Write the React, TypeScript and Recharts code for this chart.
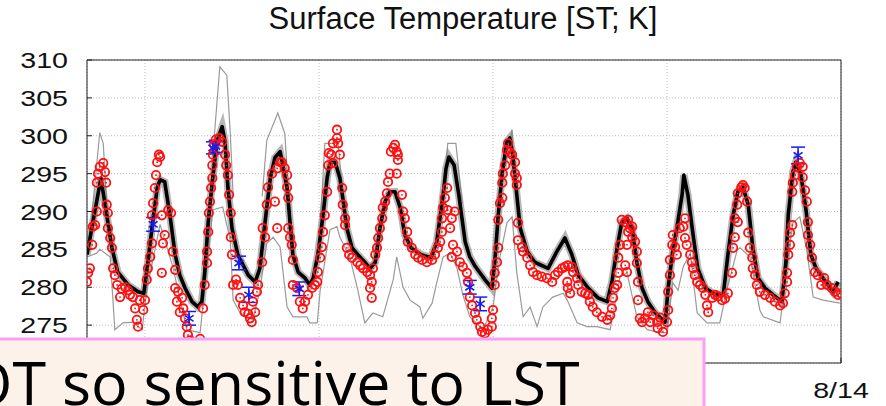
import {
  ComposedChart, Line, Scatter, ErrorBar, XAxis, YAxis, CartesianGrid,
} from 'recharts';

// time axis is days since 8/1 00:00, temperatures in K

// ensemble mean (thick black)
const ensembleMean: [number, number][] = [
  [0.00, 284.3], [0.24, 294.4], [0.43, 285.2], [0.53, 282.0], [0.71, 280.3], [0.88, 279.4], [0.98, 279.2],
  [1.05, 283.3], [1.12, 287.8], [1.21, 293.1], [1.26, 294.2], [1.34, 293.9], [1.43, 289.5], [1.52, 284.3],
  [1.60, 281.6], [1.69, 279.9], [1.81, 278.1], [1.91, 277.4], [1.98, 278.1], [2.03, 282.0], [2.09, 288.6],
  [2.16, 293.9], [2.24, 299.2], [2.33, 301.2], [2.38, 299.2], [2.43, 293.1], [2.50, 287.8], [2.60, 284.3],
  [2.78, 281.6], [2.90, 280.7], [2.98, 282.5], [3.07, 288.6], [3.16, 294.4], [3.24, 297.1], [3.33, 297.9],
  [3.45, 293.1], [3.50, 288.6], [3.55, 284.3], [3.64, 282.0], [3.76, 281.2], [3.84, 280.3], [3.90, 281.2],
  [3.98, 284.3], [4.07, 289.5], [4.14, 294.4], [4.19, 296.5], [4.28, 296.5], [4.36, 294.4], [4.41, 291.8],
  [4.48, 287.8], [4.57, 285.2], [4.67, 284.3], [4.79, 283.3], [4.88, 282.5], [4.97, 283.3], [5.05, 287.8],
  [5.14, 291.3], [5.22, 292.6], [5.31, 292.6], [5.40, 290.5], [5.48, 286.9], [5.59, 285.2], [5.76, 284.3],
  [5.93, 283.9], [6.03, 286.0], [6.14, 292.2], [6.19, 295.7], [6.24, 297.2], [6.33, 296.1], [6.41, 292.2],
  [6.52, 286.0], [6.60, 284.0], [6.69, 282.8], [6.86, 281.0], [6.98, 279.9], [7.03, 283.3], [7.09, 289.5],
  [7.16, 295.2], [7.24, 299.2], [7.29, 299.7], [7.34, 297.5], [7.41, 292.2], [7.47, 287.8], [7.59, 284.7],
  [7.72, 283.3], [7.95, 282.5], [8.10, 284.7], [8.24, 286.5], [8.36, 284.3], [8.47, 281.6], [8.64, 279.9],
  [8.81, 278.6], [8.97, 278.1], [9.05, 280.7], [9.14, 285.2], [9.22, 288.6], [9.31, 289.1], [9.40, 287.8],
  [9.48, 283.3], [9.57, 279.9], [9.67, 278.1], [9.79, 276.7], [9.84, 276.3], [9.97, 275.4], [10.02, 279.9],
  [10.09, 284.3], [10.17, 287.8], [10.26, 292.2], [10.29, 294.8], [10.36, 292.2], [10.45, 286.9], [10.53, 282.5],
  [10.66, 279.9], [10.83, 279.0], [10.97, 279.0], [11.05, 284.3], [11.14, 289.5], [11.22, 292.6], [11.31, 293.2],
  [11.40, 290.9], [11.48, 285.2], [11.57, 281.2], [11.69, 279.9], [11.83, 279.0], [11.98, 278.1], [12.05, 283.3],
  [12.09, 289.5], [12.17, 295.2], [12.22, 296.5], [12.31, 294.8], [12.40, 290.0], [12.48, 284.3], [12.57, 282.5],
  [12.74, 280.7], [12.86, 279.4], [12.95, 280.7],
];

// member with strong daytime peaks (only where it leaves the ensemble)
const peakMember: [number, number | null][] = [
  [0.05, 287], [0.14, 294], [0.22, 300.4], [0.28, 299.0], [0.34, 291], [0.41, 286], [0.7, null],
  [2.14, 293], [2.19, 299.5], [2.29, 309.1], [2.41, 308.0], [2.47, 300.4], [2.52, 292], [2.8, null],
  [3.02, 292], [3.10, 299.4], [3.29, 303.0], [3.41, 300.3], [3.48, 292], [3.55, 285], [3.8, null],
  [4.02, 288], [4.10, 299.0], [4.33, 299.0], [4.40, 293], [4.6, null],
  [6.14, 292], [6.22, 299.0], [6.36, 299.0], [6.47, 291], [6.8, null],
  [7.21, 296], [7.33, 300.8], [7.36, 295],
];

// cold-biased run (thin gray, lower)
const coldRun: [number, number][] = [
  [0.00, 284.0], [0.17, 284.5], [0.22, 285.0], [0.40, 284.0], [0.48, 274.4], [0.62, 275.3], [0.79, 275.4],
  [0.95, 274.4], [1.03, 279.6], [1.26, 288.3], [1.48, 282.7], [1.72, 274.4], [1.95, 274.0], [2.17, 290.2],
  [2.34, 290.6], [2.47, 286.2], [2.52, 278.3], [2.64, 276.6], [2.86, 275.7], [2.98, 279.6], [3.10, 285.8],
  [3.21, 286.6], [3.33, 285.3], [3.45, 277.4], [3.55, 276.1], [3.79, 276.1], [3.84, 275.3], [3.97, 275.3],
  [4.02, 279.6], [4.19, 287.6], [4.31, 288.0], [4.36, 286.6], [4.53, 284.0], [4.67, 279.6], [4.79, 275.3],
  [4.93, 276.6], [5.10, 276.1], [5.28, 281.0], [5.34, 284.0], [5.45, 280.0], [5.57, 278.3], [5.74, 277.4],
  [5.79, 275.9], [5.95, 277.9], [6.03, 280.6], [6.14, 284.0], [6.26, 284.5], [6.38, 282.5], [6.48, 279.0],
  [6.60, 276.1], [6.83, 274.4], [7.00, 277.4], [7.12, 284.0], [7.24, 288.5], [7.33, 289.3], [7.41, 281.9],
  [7.52, 276.1], [7.64, 277.4], [7.76, 274.8], [7.86, 277.4], [8.03, 278.7], [8.21, 279.2], [8.28, 278.3],
  [8.45, 275.3], [8.62, 274.8], [8.79, 274.8], [9.02, 274.4], [9.19, 281.4], [9.31, 281.9], [9.48, 276.1],
  [9.66, 274.4], [9.88, 274.0], [10.00, 274.0], [10.10, 280.6], [10.19, 279.6], [10.28, 282.7], [10.40, 284.5],
  [10.52, 276.6], [10.69, 275.3], [10.91, 275.3], [11.03, 279.6], [11.21, 284.9], [11.26, 285.2], [11.43, 284.0],
  [11.60, 277.0], [11.66, 276.1], [11.95, 275.3], [12.07, 282.7], [12.17, 288.5], [12.29, 289.3], [12.41, 284.9],
  [12.52, 278.7], [12.69, 278.3], [12.98, 277.9],
];

// in-situ observations (red circles)
const observed: [number, number][] = [
  [0.00, 280.7], [0.02, 281.9], [0.05, 282.5], [0.09, 285.6], [0.10, 288.0], [0.14, 288.2], [0.17, 290.0],
  [0.17, 293.8], [0.19, 295.0], [0.22, 295.9], [0.28, 296.4], [0.31, 295.2], [0.33, 293.8], [0.34, 290.9],
  [0.36, 289.8], [0.36, 287.8], [0.40, 286.5], [0.43, 285.2], [0.45, 282.5], [0.48, 281.6], [0.52, 280.3],
  [0.57, 278.7], [0.60, 279.8], [0.66, 280.0], [0.71, 279.6], [0.74, 279.0], [0.79, 278.7], [0.83, 277.2],
  [0.86, 275.7], [0.88, 274.8], [0.91, 278.3], [0.97, 277.0], [1.00, 278.3],
  [1.03, 281.0], [1.05, 282.5], [1.09, 284.0], [1.12, 285.8], [1.12, 289.5], [1.14, 291.1], [1.17, 293.1],
  [1.19, 294.8], [1.21, 296.5], [1.24, 297.5], [1.26, 297.2], [1.29, 289.5], [1.31, 285.8], [1.29, 281.9],
  [1.34, 286.9], [1.40, 290.2], [1.45, 289.8], [1.48, 284.7], [1.52, 282.3], [1.52, 279.9], [1.55, 278.1],
  [1.57, 279.4], [1.60, 276.7], [1.64, 278.6], [1.66, 277.2], [1.69, 275.9], [1.72, 274.8], [1.74, 273.7],
  [1.78, 273.0], [1.95, 273.2],
  [2.00, 277.2], [2.03, 280.3], [2.07, 283.2], [2.07, 284.7], [2.09, 287.3], [2.10, 289.8], [2.12, 291.3],
  [2.14, 293.1], [2.16, 294.4], [2.16, 296.1], [2.17, 297.5], [2.19, 298.8], [2.22, 299.5], [2.28, 299.7],
  [2.33, 299.2], [2.38, 297.5], [2.40, 296.1], [2.43, 294.8], [2.45, 292.2], [2.48, 289.8], [2.48, 286.6],
  [2.50, 284.3], [2.52, 280.3], [2.57, 281.0], [2.60, 280.3], [2.64, 278.6], [2.69, 277.6], [2.72, 276.7],
  [2.78, 276.5], [2.81, 275.9], [2.84, 275.4], [2.86, 278.1], [2.90, 276.7], [2.93, 279.4], [2.95, 280.3],
  [3.02, 283.3], [3.03, 287.8], [3.07, 286.6], [3.10, 290.9], [3.12, 293.2], [3.19, 295.0], [3.24, 291.3],
  [3.28, 295.7], [3.28, 287.8], [3.33, 296.5], [3.36, 296.5], [3.41, 295.7], [3.45, 294.8], [3.45, 293.2],
  [3.47, 291.8], [3.47, 287.8], [3.50, 286.6], [3.53, 285.6], [3.55, 283.6], [3.55, 280.3], [3.62, 279.9],
  [3.67, 278.1], [3.72, 277.2], [3.76, 278.1], [3.81, 279.0], [3.88, 279.9], [3.93, 280.3], [3.97, 280.7],
  [3.98, 282.0], [4.02, 283.9], [4.05, 285.3], [4.07, 287.3], [4.10, 289.5], [4.14, 292.6], [4.16, 296.1],
  [4.17, 297.7], [4.21, 297.5], [4.24, 299.0], [4.24, 296.4], [4.31, 300.8], [4.31, 299.7], [4.33, 299.0],
  [4.36, 297.5], [4.40, 293.1], [4.41, 290.9], [4.45, 289.1], [4.45, 288.2], [4.48, 285.2], [4.52, 284.3],
  [4.57, 283.9], [4.66, 283.3], [4.71, 282.9], [4.76, 282.5], [4.83, 282.0], [4.88, 281.6], [4.91, 280.7],
  [4.88, 279.9], [4.91, 278.6], [4.93, 282.5], [4.97, 284.3], [5.00, 285.2], [5.02, 286.5], [5.05, 287.8],
  [5.09, 289.1], [5.10, 290.5], [5.14, 291.3], [5.17, 292.4], [5.19, 293.9], [5.22, 295.0], [5.24, 297.9],
  [5.28, 298.4], [5.31, 298.8], [5.34, 297.9], [5.36, 297.5], [5.36, 296.8], [5.34, 295.0], [5.43, 292.2],
  [5.45, 290.0], [5.48, 289.1], [5.52, 287.3], [5.53, 286.0], [5.60, 285.2], [5.66, 284.3], [5.71, 283.9],
  [5.78, 283.6], [5.86, 283.3], [5.95, 283.6], [6.00, 284.3], [6.05, 285.2], [6.09, 286.0], [6.12, 287.3],
  [6.12, 289.1], [6.14, 290.5], [6.17, 291.8], [6.21, 293.1], [6.22, 290.2], [6.26, 287.8], [6.29, 289.1],
  [6.31, 285.6], [6.34, 290.0], [6.29, 284.0], [6.38, 284.7], [6.43, 283.3], [6.48, 282.7], [6.55, 281.9],
  [6.57, 280.7], [6.60, 278.7], [6.64, 277.6], [6.69, 276.6], [6.72, 275.7], [6.78, 274.8], [6.81, 274.1],
  [6.86, 273.9], [6.91, 274.4], [6.98, 274.8], [6.98, 275.9], [7.00, 277.0], [7.03, 280.3], [7.03, 281.9],
  [7.07, 283.3], [7.09, 285.2], [7.09, 288.9], [7.12, 291.1], [7.16, 291.8], [7.16, 293.8], [7.17, 295.0],
  [7.21, 296.1], [7.24, 298.1], [7.26, 299.0], [7.29, 297.8], [7.33, 297.5], [7.38, 296.5], [7.38, 295.0],
  [7.41, 294.4], [7.41, 293.5], [7.43, 288.5], [7.43, 286.2], [7.50, 285.3], [7.52, 284.7], [7.59, 283.9],
  [7.64, 282.9], [7.69, 282.0], [7.76, 281.6], [7.84, 281.4], [7.93, 281.2], [8.02, 280.7], [8.07, 281.6],
  [8.12, 282.0], [8.19, 282.5], [8.24, 282.7], [8.29, 282.9], [8.36, 282.7], [8.38, 282.0], [8.28, 280.7],
  [8.29, 279.9], [8.33, 279.2], [8.45, 281.2], [8.47, 280.3], [8.53, 279.4], [8.59, 279.2], [8.64, 279.0],
  [8.67, 278.1], [8.72, 277.4], [8.79, 276.7], [8.88, 276.1], [8.97, 275.7], [9.02, 276.3], [9.05, 277.2],
  [9.07, 278.6], [9.10, 279.9], [9.14, 280.3], [9.16, 281.9], [9.16, 283.9], [9.19, 285.6], [9.22, 288.9],
  [9.28, 288.6], [9.33, 288.9], [9.36, 287.8], [9.40, 288.0], [9.33, 287.3], [9.31, 285.6], [9.40, 286.6],
  [9.45, 286.0], [9.48, 284.7], [9.48, 283.2], [9.28, 282.9], [9.31, 282.0], [9.50, 280.7], [9.50, 278.3],
  [9.53, 275.9], [9.57, 275.4], [9.62, 275.9], [9.67, 276.7], [9.71, 275.4], [9.76, 276.3], [9.83, 275.4],
  [9.84, 274.6], [9.88, 276.0], [9.93, 274.1], [10.00, 275.4], [10.02, 277.0], [10.02, 279.4], [10.05, 281.6],
  [10.05, 283.6], [10.09, 285.6], [10.10, 286.9], [10.14, 285.3], [10.17, 284.3], [10.22, 287.8], [10.28, 288.0],
  [10.31, 289.1], [10.31, 286.5], [10.34, 285.6], [10.40, 284.3], [10.43, 283.3], [10.45, 282.5], [10.48, 281.6],
  [10.52, 280.7], [10.57, 280.3], [10.62, 279.9], [10.66, 279.0], [10.69, 277.6], [10.71, 276.7], [10.78, 278.6],
  [10.83, 279.0], [10.88, 278.8], [10.95, 278.3], [11.00, 278.5], [11.05, 279.2], [11.12, 281.9], [11.14, 285.2],
  [11.17, 286.6], [11.17, 289.1], [11.21, 290.9], [11.22, 292.4], [11.28, 293.2], [11.31, 293.5], [11.34, 293.1],
  [11.38, 291.3], [11.22, 288.6], [11.40, 287.2], [11.43, 285.2], [11.47, 283.9], [11.48, 282.5], [11.52, 281.6],
  [11.55, 280.3], [11.60, 279.4], [11.69, 279.0], [11.78, 278.6], [11.86, 278.1], [11.95, 277.6], [12.00, 277.9],
  [12.03, 279.2], [12.07, 280.7], [12.07, 281.9], [12.09, 284.3], [12.12, 285.6], [12.12, 287.2], [12.16, 288.2],
  [12.16, 292.6], [12.17, 293.8], [12.21, 294.8], [12.24, 295.9], [12.29, 296.4], [12.34, 295.9], [12.34, 294.5],
  [12.38, 292.8], [12.41, 291.3], [12.43, 288.6], [12.43, 286.9], [12.47, 285.6], [12.50, 283.9], [12.55, 282.0],
  [12.60, 281.6], [12.66, 280.3], [12.71, 281.2], [12.76, 280.3], [12.84, 279.9], [12.90, 279.4], [12.95, 279.0],
  [13.00, 279.2],
];

// satellite LST retrievals: day, K, error
const satellite: [number, number, number][] = [
  [1.14, 288.3, 0.9], [1.76, 275.9, 0.9], [2.17, 298.4, 0.8], [2.22, 298.6, 0.8], [2.62, 283.2, 0.9],
  [2.79, 279.0, 1.0], [3.66, 279.8, 0.9], [6.60, 280.0, 0.9], [6.78, 277.8, 0.9], [12.26, 297.4, 1.1],
];

const tempTicks = [270, 275, 280, 285, 290, 295, 300, 305, 310];
const tempLabels = ['', '275', '280', '285', '290', '295', '300', '305', '310'];
const dayTicks = [1, 4, 7, 10, 13];
// the earlier dates sit under the note box
const dayLabels = ['', '', '', '', '8/14'];

const toRows = (pts: [number, number | null][]) => pts.map(([day, temp]) => ({ day, temp }));

const plotFont = "'Liberation Sans', Arial, Helvetica, sans-serif";

// tick text in the stretched gnuplot look
const AxisText = ({ x, y, payload, anchor, dy, fmt }: any) => (
  <g transform={`translate(${x},${y}) scale(1.3,1)`}>
    <text x={0} y={dy} textAnchor={anchor} fontFamily={plotFont} fontSize={22} fill="#111">
      {fmt(payload.value)}
    </text>
  </g>
);

const ObsMarker = ({ cx, cy }: any) => (
  <g>
    <circle cx={cx} cy={cy} r={4.2} fill="none" stroke="#ff1010" strokeWidth={1.8} />
    <circle cx={cx} cy={cy} r={0.9} fill="#ff1010" />
  </g>
);

const StarMarker = ({ cx, cy }: any) => (
  <g stroke="#1a1aee" strokeWidth={1.6}>
    <line x1={cx} y1={cy - 5} x2={cx} y2={cy + 5} />
    <line x1={cx - 4.5} y1={cy - 3} x2={cx + 4.5} y2={cy + 3} />
    <line x1={cx - 4.5} y1={cy + 3} x2={cx + 4.5} y2={cy - 3} />
  </g>
);

export default function App() {
  const meanRows = toRows(ensembleMean);
  const satRows = satellite.map(([day, temp, err]) => ({ day, temp, err }));

  return (
    <div style={{ position: 'absolute', left: 0, top: 0, width: 886, height: 406, overflow: 'hidden', background: '#fff' }}>
      <ComposedChart width={886} height={406} margin={{ top: 59, right: 0, bottom: 0, left: 0 }}>
        <CartesianGrid stroke="#bdbdbd" strokeDasharray="1 2" />
        <XAxis
          dataKey="day" type="number" domain={[0, 13]} ticks={dayTicks} interval={0} allowDataOverflow
          height={43} tickSize={-5} tickMargin={40} stroke="#222"
          tick={(p: any) => <AxisText {...p} anchor="middle" dy={0} fmt={(v: number) => dayLabels[dayTicks.indexOf(v)]} />}
        />
        <XAxis
          xAxisId="top" orientation="top" type="number" domain={[0, 13]} ticks={dayTicks} interval={0}
          allowDataOverflow height={1} tickSize={-5} tick={false} stroke="#222"
        />
        <YAxis
          dataKey="temp" type="number" domain={[270, 310]} ticks={tempTicks} interval={0} allowDataOverflow
          width={87} tickSize={-5} tickMargin={24} stroke="#222"
          tick={(p: any) => <AxisText {...p} anchor="end" dy={8} fmt={(v: number) => tempLabels[tempTicks.indexOf(v)]} />}
        />
        <YAxis
          yAxisId="right" orientation="right" type="number" domain={[270, 310]} ticks={tempTicks} interval={0}
          allowDataOverflow width={45} tickSize={-5} tick={false} stroke="#222"
        />

        <Line data={toRows(coldRun)} dataKey="temp" type="linear" stroke="#9a9a9a" strokeWidth={1.2}
          dot={false} activeDot={false} isAnimationActive={false} />
        <Line data={toRows(peakMember)} dataKey="temp" type="linear" stroke="#9a9a9a" strokeWidth={1.2}
          dot={false} activeDot={false} isAnimationActive={false} />
        {/* ensemble spread drawn as a gray band under the mean */}
        <Line data={meanRows} dataKey="temp" type="linear" stroke="#7c7c7c" strokeOpacity={0.55} strokeWidth={7.5}
          dot={false} activeDot={false} isAnimationActive={false} />
        <Line data={meanRows} dataKey="temp" type="linear" stroke="#000" strokeWidth={3.6} strokeLinejoin="round"
          dot={false} activeDot={false} isAnimationActive={false} />

        <Scatter data={toRows(observed)} dataKey="temp" shape={ObsMarker} isAnimationActive={false} />
        <Scatter data={satRows} dataKey="temp" shape={StarMarker} isAnimationActive={false}>
          <ErrorBar dataKey="err" direction="y" width={7} stroke="#1a1aee" strokeWidth={1.5} />
        </Scatter>
      </ComposedChart>

      <svg width={886} height={406} style={{ position: 'absolute', left: 0, top: 0 }}>
        <text x={463} y={29} textAnchor="middle" fontFamily={plotFont} fontSize={31} fill="#111">
          Surface Temperature [ST; K]
        </text>
        <rect x={-10} y={339} width={714} height={90} fill="#fdf2e9" stroke="#f7a0f4" strokeWidth={3} />
        <text x={-35} y={405} fontFamily="'Open Sans', 'Noto Sans', sans-serif" fontSize={61} fill="#000">
          OT so sensitive to LST
        </text>
      </svg>
    </div>
  );
}
